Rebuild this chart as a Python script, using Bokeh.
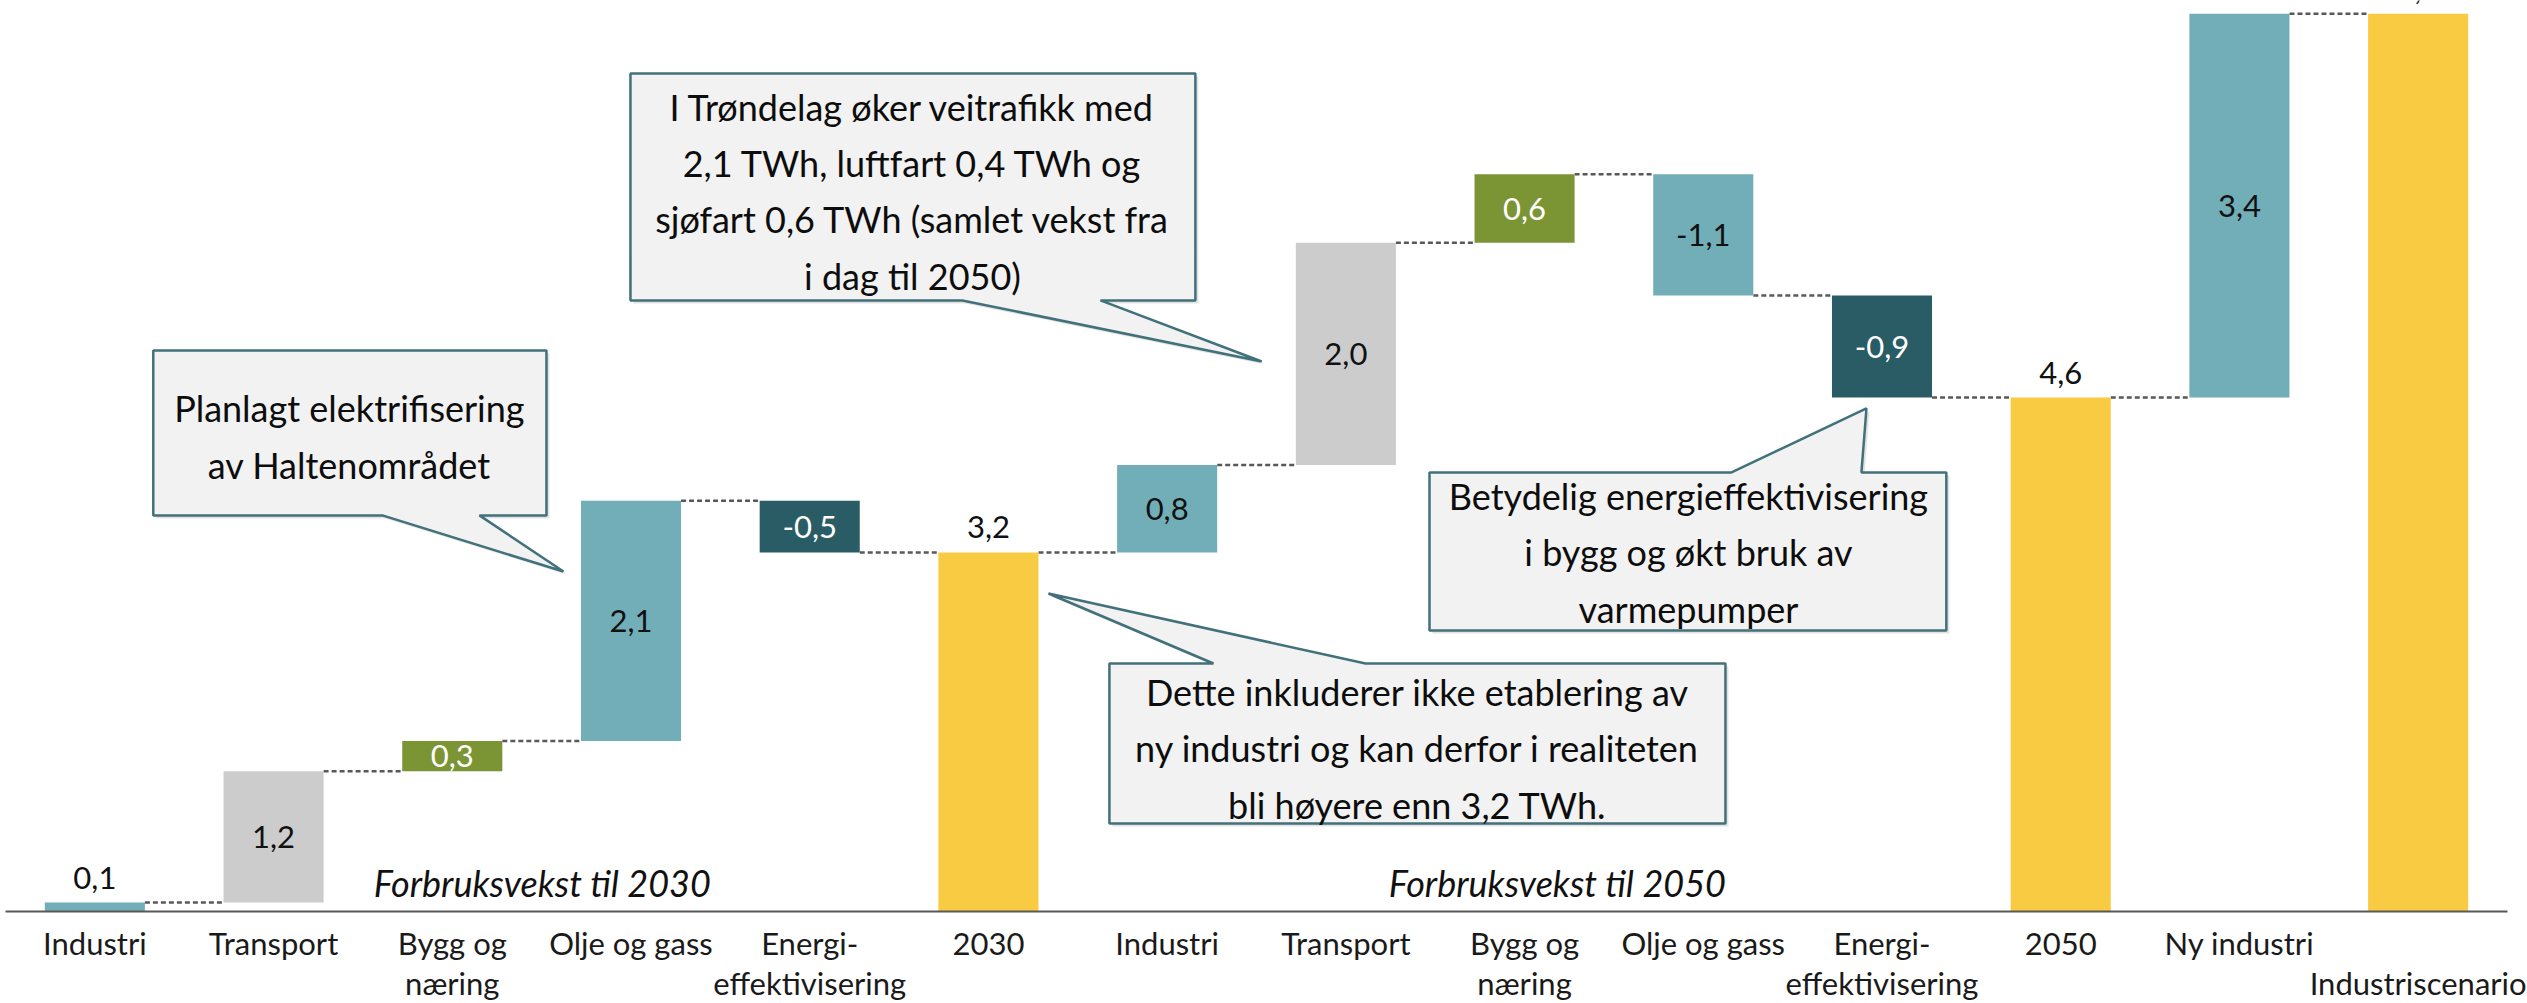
from bokeh.plotting import figure
from bokeh.models import Range1d, FixedTicker, ColumnDataSource
from bokeh.core.properties import value
from bokeh.embed import file_html
from bokeh.resources import INLINE

# ---------------- data ----------------
categories = ["Industri", "Transport", "Bygg og\nnæring", "Olje og gass", "Energi-\neffektivisering", "2030",
              "Industri", "Transport", "Bygg og\nnæring", "Olje og gass", "Energi-\neffektivisering", "2050",
              "Ny industri", "\nIndustriscenario"]
kinds = ["industri", "transport", "bygg", "olje", "energi", "total",
         "industri", "transport", "bygg", "olje", "energi", "total",
         "industri", "total"]
values = [0.08, 1.17, 0.27, 2.14, -0.46, 3.20,
          0.78, 1.98, 0.61, -1.08, -0.91, 4.58,
          3.42, 8.00]
section_labels = ["Forbruksvekst til 2030", "Forbruksvekst til 2050"]
callout_texts = [
    "Planlagt elektrifisering\nav Haltenområdet",
    "I Trøndelag øker veitrafikk med\n2,1 TWh, luftfart 0,4 TWh og\nsjøfart 0,6 TWh (samlet vekst fra\ni dag til 2050)",
    "Betydelig energieffektivisering\ni bygg og økt bruk av\nvarmepumper",
    "Dette inkluderer ikke etablering av\nny industri og kan derfor i realiteten\nbli høyere enn 3,2 TWh.",
]

# ---------------- styles ----------------
kind_color = {"industri": "#72AEB8", "transport": "#CCCCCC", "bygg": "#7B9535",
              "olje": "#72AEB8", "energi": "#295C65", "total": "#F9CB42"}
kind_label_color = {"industri": "#111111", "transport": "#111111", "bygg": "#FFFFFF",
                    "olje": "#111111", "energi": "#FFFFFF", "total": "#111111"}
FONT = value("Lato")
BAR_W = 0.56

# ---------------- waterfall geometry ----------------
xs = list(range(len(values)))
bottoms, tops, ends = [], [], []
level = 0.0
for v, k in zip(values, kinds):
    if k == "total":
        b, t = 0.0, v
        level = v
    else:
        b, t = min(level, level + v), max(level, level + v)
        level = level + v
    bottoms.append(b)
    tops.append(t)
    ends.append(level)

labels = [f"{v:.1f}".replace(".", ",") for v in values]
colors = [kind_color[k] for k in kinds]
lcolors = [kind_label_color[k] for k in kinds]

bars = ColumnDataSource(dict(x=xs, bottom=bottoms, top=tops, color=colors))

above = [i for i in xs if bottoms[i] == 0]
inside = [i for i in xs if bottoms[i] != 0]
src_above = ColumnDataSource(dict(x=[xs[i] for i in above], y=[tops[i] for i in above],
                                  text=[labels[i] for i in above]))
src_inside = ColumnDataSource(dict(x=[xs[i] for i in inside],
                                   y=[(bottoms[i] + tops[i]) / 2 for i in inside],
                                   text=[labels[i] for i in inside],
                                   color=[lcolors[i] for i in inside],
                                   bg=[colors[i] for i in inside]))

conn = ColumnDataSource(dict(x0=[i + BAR_W / 2 for i in xs[:-1]],
                             x1=[i + 1 - BAR_W / 2 for i in xs[:-1]],
                             y=ends[:-1]))

# ---------------- figure ----------------
p = figure(frame_width=2502, frame_height=911,
           x_range=Range1d(-0.5, 13.5), y_range=Range1d(0, 8.119),
           output_backend="svg", toolbar_location=None, y_axis_location=None,
           min_border_left=5, min_border_right=20, min_border_top=0, min_border_bottom=0)
p.outline_line_color = None
p.grid.grid_line_color = None
p.background_fill_color = "white"

ax = p.xaxis[0]
ax.ticker = FixedTicker(ticks=xs)
ax.major_label_overrides = {i: c for i, c in zip(xs, categories)}
ax.major_tick_line_color = None
ax.minor_tick_line_color = None
ax.axis_line_color = "#595959"
ax.axis_line_width = 2
ax.major_label_standoff = 6
ax.major_label_text_font = "Lato"
ax.major_label_text_font_size = "31px"
ax.major_label_text_color = "#1A1A1A"
ax.major_label_text_line_height = 1.07

# connectors
p.segment(x0="x0", y0="y", x1="x1", y1="y", source=conn,
          line_color="#595959", line_width=2.5, line_dash="5 3")

# bars
p.vbar(x="x", width=BAR_W, bottom="bottom", top="top", source=bars,
       fill_color="color", line_color=None)

# value labels
p.text(x="x", y="y", text="text", source=src_inside, text_color="color",
       text_align="center", text_baseline="middle", text_font=FONT,
       text_font_size=value("31px"), background_fill_color="bg", padding=3)
p.text(x="x", y="y", text="text", source=src_above, text_color="#111111",
       text_align="center", text_baseline="bottom", y_offset=-14, text_font=FONT,
       text_font_size=value("31px"))

# section labels
p.text(x=[2.504, 8.184], y=[0.25, 0.25], text=section_labels, text_color="#111111",
       text_align="center", text_baseline="middle", text_font=FONT,
       text_font_style="italic", text_font_size=value("36px"))

# callouts: box (left, right, bottom, top), pointer side, base x pair, tip, text centre
callout_geo = [
    dict(box=(0.327, 2.527, 3.53, 5.0), side="bottom", base=(1.609, 2.152), tip=(2.622, 3.03), tc=(1.424, 4.234)),
    dict(box=(2.997, 6.158, 5.446, 7.469), side="bottom", base=(4.854, 5.627), tip=(6.529, 4.902), tc=(4.575, 6.42)),
    dict(box=(7.468, 10.36, 2.504, 3.913), side="top", base=(9.158, 9.885), tip=(9.913, 4.483), tc=(8.917, 3.20)),
    dict(box=(5.677, 9.124, 0.784, 2.21), side="top", base=(6.259, 7.11), tip=(5.336, 2.834), tc=(7.40, 1.453)),
]
pxs, pys = [], []
for g in callout_geo:
    L, R, B, T = g["box"]
    b1, b2 = g["base"]
    tx, ty = g["tip"]
    if g["side"] == "bottom":
        px_ = [L, R, R, b2, tx, b1, L]
        py_ = [T, T, B, B, ty, B, B]
    else:
        px_ = [L, b1, tx, b2, R, R, L]
        py_ = [T, T, ty, T, T, B, B]
    pxs.append(px_)
    pys.append(py_)
# soft shadow
dx, dy = 3 / 178.7, 3 / 112.2
p.patches(xs=[[x + dx for x in xx] for xx in pxs], ys=[[y - dy for y in yy] for yy in pys],
          fill_color="#BFBFBF", fill_alpha=0.45, line_color=None)
p.patches(xs=pxs, ys=pys, fill_color="#F2F2F2", line_color="#41717A", line_width=2.5)
p.text(x=[g["tc"][0] for g in callout_geo], y=[g["tc"][1] for g in callout_geo],
       text=callout_texts, text_color="#0D0D0D", text_align="center", text_baseline="middle",
       text_font=FONT, text_font_size=value("36px"), text_line_height=1.28)

open("out.html", "w").write(file_html(p, INLINE))
